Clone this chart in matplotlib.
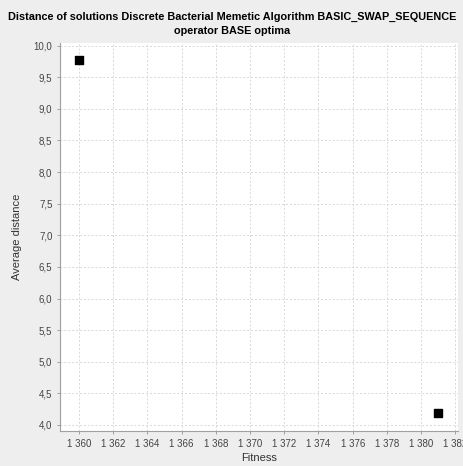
import matplotlib
matplotlib.use("Agg")
import matplotlib.pyplot as plt
from matplotlib.ticker import FuncFormatter, MultipleLocator

# Data
fitness = [1360, 1381]
avg_distance = [9.77, 4.19]

title = "Distance of solutions Discrete Bacterial Memetic Algorithm BASIC_SWAP_SEQUENCE\noperator BASE optima"

plt.rcParams['font.family'] = ['Liberation Sans', 'DejaVu Sans']

fig = plt.figure(figsize=(4.64, 4.66), dpi=100, facecolor='#eeeeee')
ax = fig.add_axes([60 / 464, 1 - 431 / 466, 398 / 464, 388 / 466])
ax.set_facecolor('white')

ax.scatter(fitness, avg_distance, marker='s', s=28, color='black', zorder=3)

ax.set_xlim(1358.9, 1382.15)
ax.set_ylim(3.905, 10.04)
ax.xaxis.set_major_locator(MultipleLocator(2))
ax.yaxis.set_major_locator(MultipleLocator(0.5))
ax.xaxis.set_major_formatter(FuncFormatter(lambda v, p: f"{int(round(v)):,}".replace(",", " ")))
ax.yaxis.set_major_formatter(FuncFormatter(lambda v, p: f"{v:.1f}".replace(".", ",")))

ax.grid(True, color='#d8d8d8', linestyle=(0, (2, 2)), linewidth=0.7)
ax.set_axisbelow(True)
for s in ax.spines.values():
    s.set_color('#a0a0a0')
    s.set_linewidth(0.8)
ax.spines['top'].set_visible(False)
ax.spines['right'].set_visible(False)
ax.tick_params(axis='both', labelsize=7, colors='#a0a0a0', labelcolor='#444444', length=2, width=0.7)

ax.set_xlabel("Fitness", fontsize=8, color='#333333', labelpad=3)
ax.set_ylabel("Average distance", fontsize=8, color='#333333', labelpad=8)
fig.text(0.5, 1 - 24 / 466, title, ha='center', va='center', fontsize=7.8, fontweight='bold',
         linespacing=1.55)

fig.savefig("out.png", dpi=100, facecolor=fig.get_facecolor())
